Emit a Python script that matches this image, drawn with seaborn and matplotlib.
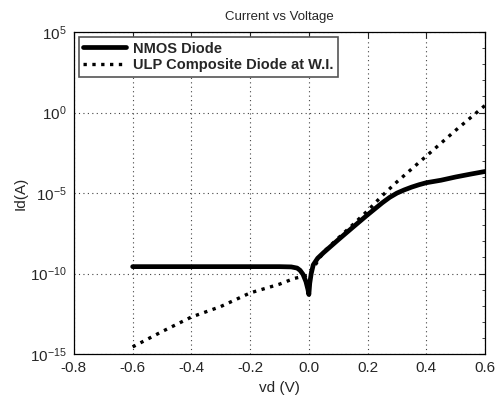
import numpy as np
import pandas as pd
import matplotlib
matplotlib.use("Agg")
import matplotlib.pyplot as plt
import seaborn as sns
from matplotlib.ticker import LogLocator, FixedLocator, NullFormatter

# NMOS diode current (A) vs voltage (V)
nmos_v = [-0.6, -0.4, -0.2, -0.1, -0.06, -0.04, -0.03, -0.02, -0.01, -0.003, 0.0,
          0.003, 0.008, 0.015, 0.03, 0.05, 0.1, 0.15, 0.2, 0.25, 0.275, 0.3, 0.325,
          0.35, 0.375, 0.4, 0.45, 0.5, 0.55, 0.6]
nmos_i = [2.7e-10, 2.7e-10, 2.7e-10, 2.7e-10, 2.6e-10, 2.2e-10, 1.6e-10, 9e-11, 3.2e-11,
          1e-11, 5e-12,
          2.5e-11, 1e-10, 3.5e-10, 9e-10, 2e-9, 1.26e-8, 7.6e-8, 4.5e-7, 2.5e-6, 5.4e-6,
          1e-5, 1.58e-5, 2.35e-5, 3.3e-5, 4.4e-5, 6.3e-5, 1e-4, 1.5e-4, 2.2e-4]

# ULP composite diode at W.I.
ulp_v = [-0.6, -0.5, -0.4, -0.3, -0.2, -0.1, -0.05, 0.0, 0.05, 0.1, 0.15, 0.2, 0.25,
         0.3, 0.4, 0.5, 0.6]
ulp_i = [2.8e-15, 2.5e-14, 2e-13, 9e-13, 6.3e-12, 2.2e-11, 5e-11, 8e-11, 2.2e-9,
         1.6e-8, 1.1e-7, 8e-7, 7e-6, 5e-5, 2e-3, 8e-2, 2.8e0]

x_ticks = [-0.8, -0.6, -0.4, -0.2, 0.0, 0.2, 0.4, 0.6]
y_ticks = [1e-15, 1e-10, 1e-5, 1e0, 1e5]

df = pd.concat([
    pd.DataFrame({"vd": nmos_v, "Id": nmos_i, "series": "NMOS Diode"}),
    pd.DataFrame({"vd": ulp_v, "Id": ulp_i, "series": "ULP Composite Diode at W.I."}),
])

sns.set_style("white")
plt.rcParams["font.family"] = ["Liberation Sans", "DejaVu Sans"]
plt.rcParams["mathtext.fontset"] = "custom"
plt.rcParams["mathtext.rm"] = "Liberation Sans"

fig = plt.figure(figsize=(4.96, 4.01), dpi=100)
ax = fig.add_axes([0.149, 0.117, 0.829, 0.803])

sns.lineplot(data=df[df.series == "NMOS Diode"], x="vd", y="Id", color="black",
             linewidth=3.4, sort=False, estimator=None, ax=ax, label="NMOS Diode")
sns.lineplot(data=df[df.series != "NMOS Diode"], x="vd", y="Id", color="black",
             linewidth=2.4, linestyle=":", sort=False, estimator=None, ax=ax,
             label="ULP Composite Diode at W.I.")

ax.set_yscale("log")
ax.set_xlim(-0.8, 0.6)
ax.set_ylim(1e-15, 1e5)
ax.xaxis.set_major_locator(FixedLocator(x_ticks))
ax.set_xticklabels([f"{t:.1f}" for t in x_ticks])
ax.yaxis.set_major_locator(FixedLocator(y_ticks))
ax.yaxis.set_minor_locator(LogLocator(base=10, subs=(1.0,), numticks=40))
ax.yaxis.set_minor_formatter(NullFormatter())

ax.grid(True, which="major", linestyle=(0, (1, 3)), color="#444444", linewidth=0.8)
for s in ax.spines.values():
    s.set_color("black")
    s.set_linewidth(0.9)

ax.tick_params(which="major", direction="in", length=4, top=True, right=True,
               labelsize=11, pad=5)
ax.tick_params(which="minor", direction="in", length=2.5, left=False, right=True)

ax.set_xlabel("vd (V)", fontsize=11, labelpad=4)
ax.set_ylabel("Id(A)", fontsize=11, labelpad=2)
ax.set_title("Current vs Voltage", fontsize=9.5, pad=9)

leg = ax.legend(loc="upper left", fancybox=False, framealpha=1, edgecolor="#555555",
                prop={"weight": "bold", "size": 10.5}, handlelength=2.9,
                borderaxespad=0.35, borderpad=0.3, labelspacing=0.2, handletextpad=0.5)
leg.get_frame().set_linewidth(1.2)

fig.savefig("out.png", dpi=100)
